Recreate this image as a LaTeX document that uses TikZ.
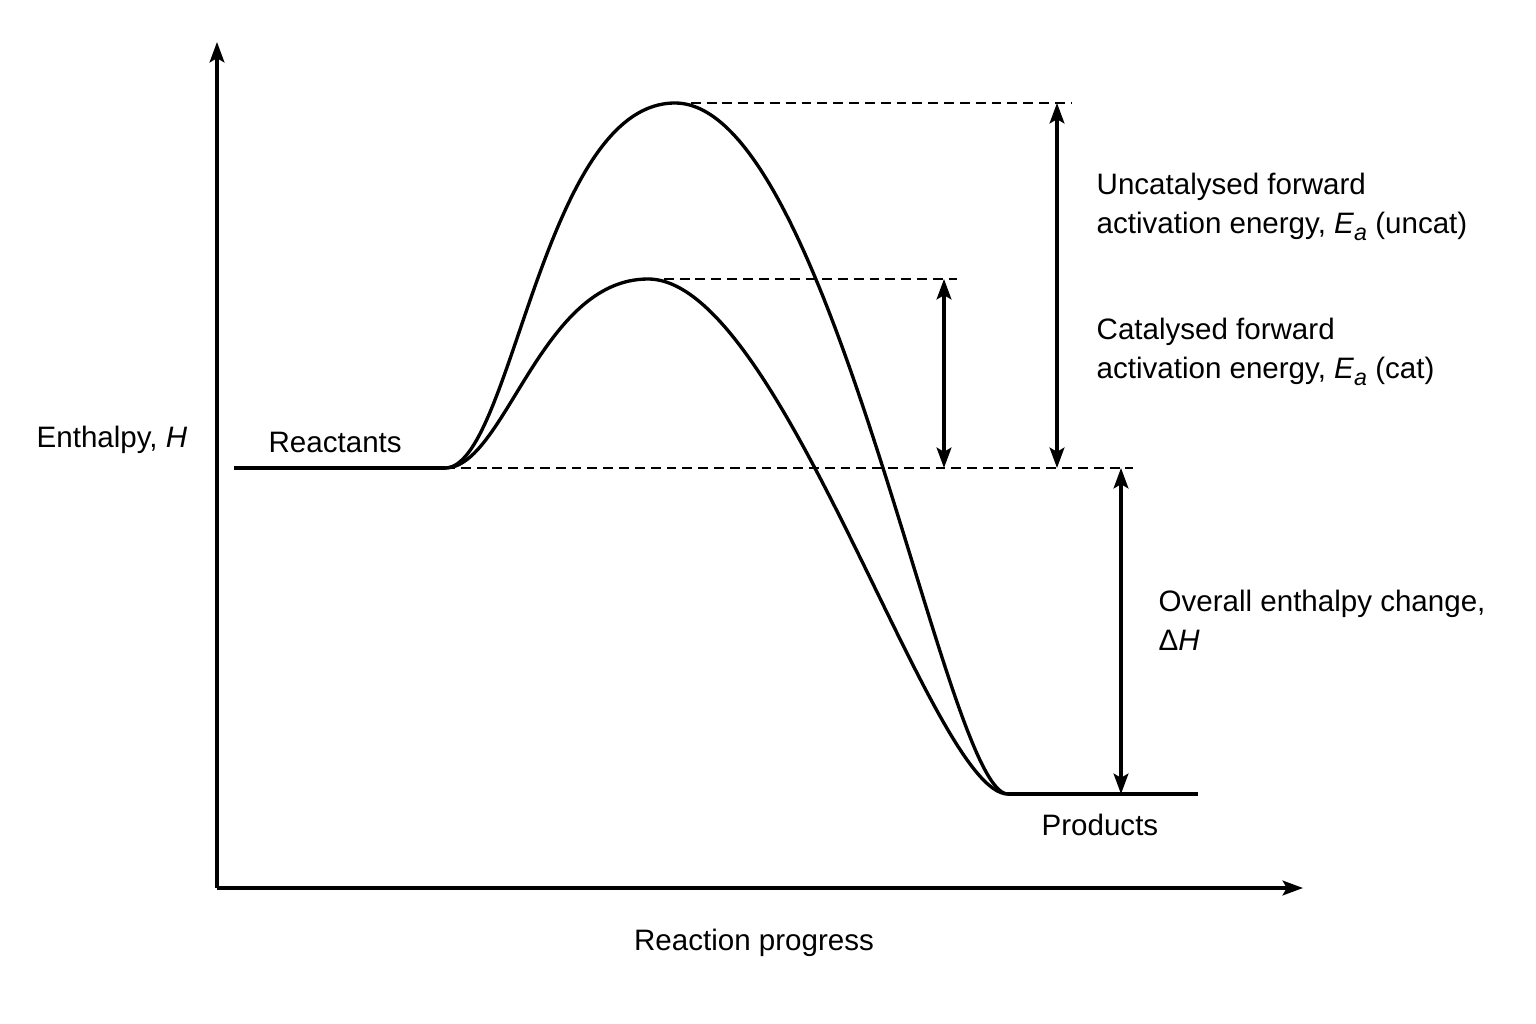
\documentclass[tikz,border=0pt]{standalone}
\usepackage{fontspec}
\setmainfont{Liberation Sans}
\usepackage{tikz}
\usetikzlibrary{arrows.meta, calc, positioning}

\newcommand{\Ea}{\textit{E}\raisebox{-0.45ex}{\fontsize{6.6}{7}\selectfont\textit{a}}}

\begin{document}
\begin{tikzpicture}[x=0.01cm, y=-0.01cm, line width=0.95pt,
        font=\fontsize{8.4}{11.1}\selectfont,
        >={Stealth[length=5.8pt, width=4.2pt, inset=1.2pt]},
        level/.style={dash pattern=on 2.8pt off 1.7pt, line width=0.85pt},
        lbl/.style={inner sep=0pt, align=left}]
            \useasboundingbox (0,0) rectangle (1536,1024);

            % Axes
            \coordinate (origin) at (217,888);
            \coordinate (ytip) at (217,42);
            \coordinate (xtip) at (1303,888);
            \draw[->] (origin) -- (ytip);
            \draw[->] (origin) -- (xtip);

            % Energy levels and peaks
            \coordinate (rstart) at (234,468);
            \coordinate (rend) at (445,468);
            \coordinate (pstart) at (1008,794);
            \coordinate (pend) at (1198,794);
            \coordinate (uncatpeak) at (675,103);
            \coordinate (catpeak) at (648,279);
            \coordinate (uncatdash) at (1072,103);
            \coordinate (catdash) at (957,279);
            \coordinate (reacdash) at (1133,468);

            \draw (rstart) -- (rend);
            \draw (pstart) -- (pend);

            % Uncatalysed and catalysed pathways
            \draw (rend) .. controls (512,468) and (542,103) .. (uncatpeak)
                  .. controls (832,103) and (945,794) .. (pstart);
            \draw (rend) .. controls (505,468) and (540,279) .. (catpeak)
                  .. controls (782,279) and (932,794) .. (pstart);

            % Dashed reference lines
            \draw[level] (uncatpeak) -- (uncatdash);
            \draw[level] (catpeak) -- (catdash);
            \draw[level] (rend) -- (reacdash);

            % Double arrows for the energy differences
            \draw[<->] (1057,103) -- (1057,468);
            \draw[<->] (944,279) -- (944,468);
            \draw[<->] (1121,468) -- (1121,794);

            % Labels
            \node (ylabel) [lbl, anchor=west] at (35,440) {Enthalpy, \textit{H}};
            \node (xlabel) [lbl] at (754,943) {Reaction progress};
            \node (reac) [lbl, anchor=west] at (267,442) {Reactants};
            \node (prod) [lbl, anchor=west] at (1040,825) {Products};
            \node (uncatlbl) [lbl, anchor=west] at (1095,207)
                {Uncatalysed forward\\activation energy, \Ea\ (uncat)};
            \node (catlbl) [lbl, anchor=west] at (1095,352)
                {Catalysed forward\\activation energy, \Ea\ (cat)};
            \node (dhlbl) [lbl, anchor=west] at (1157,620)
                {Overall enthalpy change,\\Δ\textit{H}};
        \end{tikzpicture}
\end{document}
